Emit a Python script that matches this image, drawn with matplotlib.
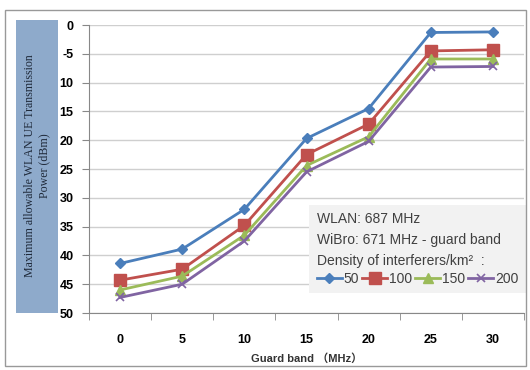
import numpy as np
import matplotlib.pyplot as plt
from matplotlib.patches import Rectangle

# data (power shown as depth on an inverted axis)
guard_band = ['0', '5', '10', '15', '20', '25', '30']
density_50 = [41.4, 38.9, 32.0, 19.7, 14.5, 1.3, 1.2]
density_100 = [44.3, 42.4, 34.8, 22.5, 17.2, 4.5, 4.3]
density_150 = [46.0, 43.6, 36.5, 24.4, 19.4, 5.9, 5.9]
density_200 = [47.3, 45.0, 37.5, 25.5, 20.2, 7.3, 7.2]
series_names = ['50', '100', '150', '200']
ytick_values = [0, 5, 10, 15, 20, 25, 30, 35, 40, 45, 50]
ytick_labels = ['0', '-5', '10', '15', '20', '25', '30', '35', '40', '45', '50']

colors = ['#4a7ebb', '#c0504d', '#9bbb59', '#8064a2']
markers = ['D', 's', '^', 'x']
msizes = [5, 8, 7, 6]

plt.rcParams['font.family'] = ['Liberation Sans', 'Noto Sans CJK SC', 'DejaVu Sans']

fig = plt.figure(figsize=(5.3, 3.7), dpi=100)
ax = fig.add_axes([89 / 530, 1 - 313 / 370, 435 / 530, 288 / 370])

x = np.arange(len(guard_band))
all_series = [density_50, density_100, density_150, density_200]
for vals, name, c, m, ms in zip(all_series, series_names, colors, markers, msizes):
    ax.plot(x, vals, color=c, marker=m, markersize=ms, linewidth=2, label=name,
            markeredgewidth=1 if m != 'x' else 1.2)

ax.set_xlim(-0.5, 6.5)
ax.set_ylim(50, 0)
ax.set_yticks(ytick_values)
ax.set_yticklabels(ytick_labels, fontweight='bold', fontsize=9)
ax.set_xticks(x)
ax.set_xticklabels(guard_band, fontweight='bold', fontsize=9)
ax.set_xticks(np.arange(-0.5, 7, 1), minor=True)
ax.tick_params(axis='x', which='major', length=0, pad=15)
ax.tick_params(axis='x', which='minor', length=5, color='#888888')
ax.tick_params(axis='y', length=5, color='#888888', pad=6)
ax.grid(axis='y', color='#cfcfcf', linewidth=1)
ax.set_axisbelow(True)
for s in ['top', 'right']:
    ax.spines[s].set_visible(False)
ax.spines['left'].set_color('#888888')
ax.spines['bottom'].set_color('#888888')
ax.set_xlabel('Guard band （MHz）', fontsize=8, fontweight='bold', color='#333333', labelpad=5)

leg = ax.legend(loc='upper left', bbox_to_anchor=(0.49, 0.40), ncol=4,
                title='WLAN: 687 MHz\nWiBro: 671 MHz - guard band\nDensity of interferers/km²  :',
                fontsize=10, title_fontsize=10, frameon=True, fancybox=False,
                handlelength=1.8, handletextpad=0.15, columnspacing=0.2,
                borderpad=0.55, labelspacing=0.3, alignment='left')
leg.get_frame().set_facecolor('#f2f2f2')
leg.get_frame().set_edgecolor('none')
leg.get_frame().set_alpha(1)
leg.get_title().set_color('#404040')
leg.get_title().set_linespacing(1.6)
for t in leg.get_texts():
    t.set_color('#404040')

# y label box
fig.patches.append(Rectangle((16 / 530, 1 - 313 / 370), 42 / 530, 293 / 370,
                             transform=fig.transFigure, facecolor='#8eaacb',
                             edgecolor='none'))
fig.text(37 / 530, 1 - 166 / 370, 'Maximum allowable WLAN UE Transmission\nPower (dBm)',
         rotation=90, ha='center', va='center', fontsize=8.6, family='Liberation Serif',
         color='#1f2a3a', linespacing=1.25)

# outer frame
fig.patches.append(Rectangle((5 / 530, 4 / 370), 521 / 530, 356 / 370,
                             transform=fig.transFigure, facecolor='none',
                             edgecolor='#999999', linewidth=1))

fig.savefig('out.png', dpi=100)
